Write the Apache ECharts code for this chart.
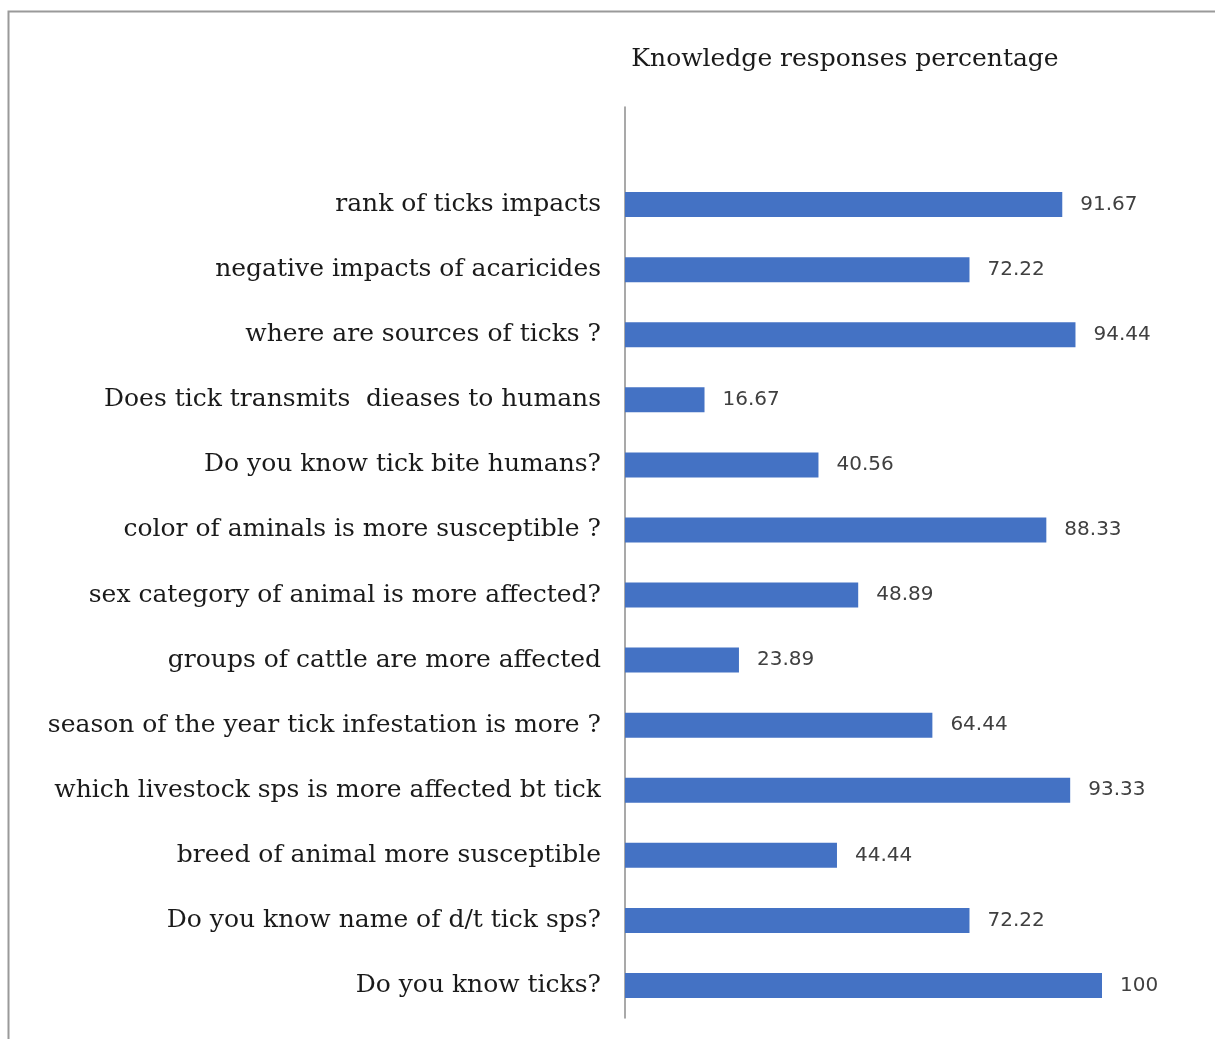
<!DOCTYPE html>
<html><head><meta charset="utf-8">
<script src="https://cdn.jsdelivr.net/npm/echarts@6/dist/echarts.min.js"></script>
<style>html,body{margin:0;padding:0;background:#fff}#c{width:1215px;height:1039px}</style>
</head><body><div id="c"></div>
<script>
// categories from bottom to top
const categories = [
  "Do you know ticks?",
  "Do you know name of d/t tick sps?",
  "breed of animal more susceptible",
  "which livestock sps is more affected bt tick",
  "season of the year tick infestation is more ?",
  "groups of cattle are more affected",
  "sex category of animal is more affected?",
  "color of aminals is more susceptible ?",
  "Do you know tick bite humans?",
  "Does tick transmits  dieases to humans",
  "where are sources of ticks ?",
  "negative impacts of acaricides",
  "rank of ticks impacts"
];
const values = [100, 72.22, 44.44, 93.33, 64.44, 23.89, 48.89, 88.33, 40.56, 16.67, 94.44, 72.22, 91.67];
const title = "Knowledge responses percentage";

const chart = echarts.init(document.getElementById('c'), null, {renderer:'canvas'});
chart.setOption({
  backgroundColor:'#fff',
  animation:false,
  title:{text:title, left:840, top:42, textAlign:'center',
    textStyle:{fontFamily:'DejaVu Serif', fontSize:25, fontWeight:'normal', color:'#1a1a1a'}},
  graphic:[{type:'rect', shape:{x:8.5,y:11.5,width:1230,height:1060},
    style:{fill:'none', stroke:'#9a9a9a', lineWidth:2}}],
  grid:{left:625, right:113, top:107, bottom:21},
  xAxis:{type:'value', min:0, max:100, show:false},
  yAxis:{type:'category', data:categories.concat(['']),
    axisLine:{show:true, lineStyle:{color:'#8c8c8c', width:1.5}},
    axisTick:{show:false},
    axisLabel:{margin:24, fontFamily:'DejaVu Serif', fontSize:25, color:'#1a1a1a'}},
  series:[{type:'bar', data:values.concat([null]), barWidth:25,
    itemStyle:{color:'#4472C4'},
    label:{show:true, position:'right', distance:18, fontFamily:'DejaVu Sans', fontSize:20, color:'#404040'}}]
});
</script></body></html>
